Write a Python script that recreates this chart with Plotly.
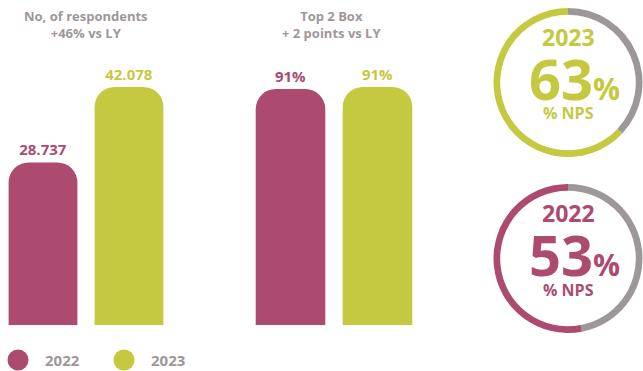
import plotly.graph_objects as go

W, H = 643, 371

years = ["2022", "2023"]
respondents = [28737, 42078]
top2_box = [90.6, 91.4]
nps = [53, 63]

title_left = "No, of respondents<br>+46% vs LY"
title_mid = "Top 2 Box<br>+ 2 points vs LY"

MAGENTA = "#AC4A6F"
GREEN = "#C4C940"
GRAY = "#9E9799"
FONT = "Open Sans"
colors = [MAGENTA, GREEN]


def px_x(v):
    return v / W


def px_y(v):
    return 1 - v / H


def label(x, y, text, size, color, xanchor="center"):
    fig.add_annotation(x=px_x(x), y=px_y(y), xref="paper", yref="paper",
                       xanchor=xanchor, yanchor="middle",
                       text=text, showarrow=False,
                       font=dict(family=FONT, size=size, color=color))


fig = go.Figure()

# bars: respondents
fig.add_trace(go.Bar(
    x=years, y=respondents, marker_color=colors, width=0.8,
    marker_cornerradius=20, marker_line_width=0,
    texttemplate="%{y:,}", textposition="outside", cliponaxis=False,
    outsidetextfont=dict(family=FONT, size=15, color=colors, weight="bold"),
    xaxis="x", yaxis="y", showlegend=False, hoverinfo="skip",
))

# bars: top 2 box
fig.add_trace(go.Bar(
    x=years, y=top2_box, marker_color=colors, width=0.8,
    marker_cornerradius=20, marker_line_width=0,
    texttemplate="%{y:.0f}%", textposition="outside", cliponaxis=False,
    outsidetextfont=dict(family=FONT, size=15, color=colors, weight="bold"),
    xaxis="x2", yaxis="y2", showlegend=False, hoverinfo="skip",
))

# NPS donuts (gray remainder first, so the score runs round the left side)
donuts = [
    (nps[1], GREEN, years[1], (8, 157)),
    (nps[0], MAGENTA, years[0], (184, 333)),
]
for val, col, yr, (top, bot) in donuts:
    fig.add_trace(go.Pie(
        values=[100 - val, val], marker=dict(colors=[GRAY, col], line=dict(width=0)),
        hole=0.91, sort=False, direction="counterclockwise", rotation=0,
        textinfo="none", hoverinfo="skip", showlegend=False,
        domain=dict(x=[px_x(493), 1], y=[px_y(bot), px_y(top)]),
    ))
    cy = (top + bot) / 2
    label(568, cy - 46, f"<b>{yr}</b>", 23, col)
    label(574, cy - 5, f"<b>{val}<span style='font-size:30px'>%</span></b>", 56, col)
    label(568, cy + 31, "<b>% NPS</b>", 16, col)

# group titles
label(86, 24, f"<b>{title_left}</b>", 13, GRAY)
label(331, 24, f"<b>{title_mid}</b>", 13, GRAY)

# legend
for i, (yr, col) in enumerate(zip(years, colors)):
    cx = 18 + i * 106
    fig.add_shape(type="circle", xref="paper", yref="paper",
                  x0=px_x(cx - 10.5), x1=px_x(cx + 10.5),
                  y0=px_y(360 + 10.5), y1=px_y(360 - 10.5),
                  fillcolor=col, line_width=0)
    label(cx + 25, 360, f"<b>{yr}</b>", 15, GRAY, xanchor="left")

ydom = [px_y(325), 1]
fig.update_layout(
    width=W, height=H, margin=dict(l=0, r=0, t=0, b=0),
    paper_bgcolor="white", plot_bgcolor="white",
    separators=",.",
    xaxis=dict(domain=[0, px_x(172)], visible=False),
    yaxis=dict(domain=ydom, range=[0, max(respondents) * 325 / 238], visible=False),
    xaxis2=dict(domain=[px_x(247), px_x(421)], visible=False, anchor="y2"),
    yaxis2=dict(domain=ydom, range=[0, max(top2_box) * 325 / 238], visible=False, anchor="x2"),
)

fig.write_html("out.html", config={"displayModeBar": False},
               post_script="document.body.style.margin='0';")
